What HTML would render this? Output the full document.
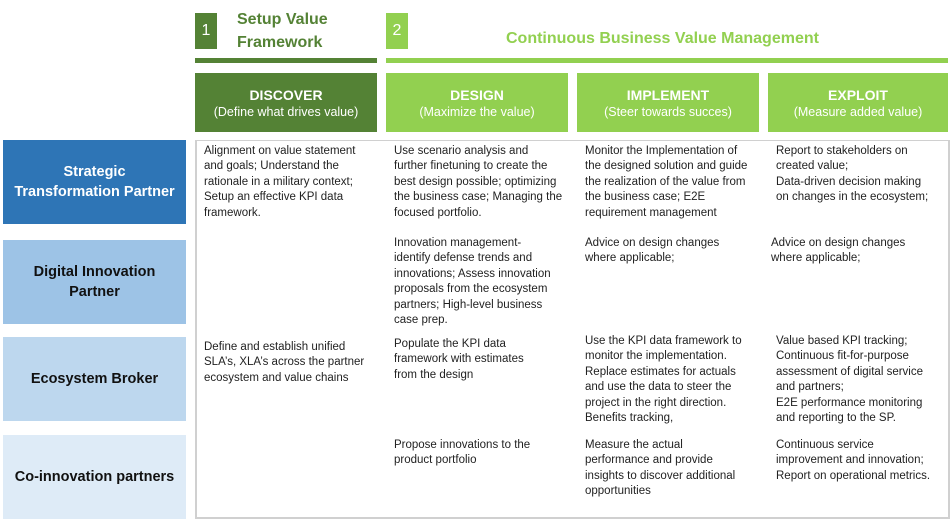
<!DOCTYPE html>
<html><head><meta charset="utf-8"><style>
body{margin:0;width:950px;height:520px;background:#fff;font-family:"Liberation Sans",sans-serif;position:relative;overflow:hidden}
.a{position:absolute}
.t{position:absolute;font-size:11.5px;line-height:15.4px;color:#222;white-space:nowrap}
.hd{position:absolute;top:73px;height:59px;color:#fff;text-align:center;font-size:12.5px}
.hd b{display:block;font-size:14px;margin-top:14px;margin-bottom:2px}
.rl{position:absolute;left:3px;width:183px;height:84px;display:flex;align-items:center;justify-content:center;text-align:center;font-weight:bold;font-size:14.5px;line-height:20px}
</style></head><body>
<div class="a" style="left:195px;top:13px;width:22px;height:36px;background:#548235;color:#fff;font-size:16px;text-align:center;line-height:36px">1</div>
<div class="a" style="left:386px;top:13px;width:22px;height:36px;background:#92D050;color:#fff;font-size:16px;text-align:center;line-height:36px">2</div>
<div class="a" style="left:237px;top:8px;color:#548235;font-weight:bold;font-size:16px;line-height:23px">Setup Value<br>Framework</div>
<div class="a" style="left:506px;top:28px;color:#92D050;font-weight:bold;font-size:16px;line-height:22px">Continuous Business Value Management</div>
<div class="a" style="left:195px;top:58px;width:182px;height:5px;background:#548235"></div>
<div class="a" style="left:386px;top:58px;width:562px;height:5px;background:#92D050"></div>
<div class="hd" style="left:195px;width:182px;background:#548235"><b>DISCOVER</b>(Define what drives value)</div>
<div class="hd" style="left:386px;width:182px;background:#92D050"><b>DESIGN</b>(Maximize the value)</div>
<div class="hd" style="left:577px;width:182px;background:#92D050"><b>IMPLEMENT</b>(Steer towards succes)</div>
<div class="hd" style="left:768px;width:180px;background:#92D050"><b>EXPLOIT</b>(Measure added value)</div>
<div class="a" style="left:195px;top:140px;width:751px;height:376px;border:2px solid #d0d0d0;border-top-width:1px"></div>
<div class="rl" style="top:140px;background:#2E75B6;color:#fff">Strategic<br>Transformation Partner</div>
<div class="rl" style="top:240px;background:#9DC3E6;color:#111">Digital Innovation<br>Partner</div>
<div class="rl" style="top:337px;background:#BDD7EE;color:#111">Ecosystem Broker</div>
<div class="rl" style="top:435px;background:#DEEBF7;color:#111">Co-innovation partners</div>

<div class="t" style="left:204px;top:144px">Alignment on value statement<br>and goals; Understand the<br>rationale in a military context;<br>Setup an effective KPI data<br>framework.</div>
<div class="t" style="left:394px;top:144px">Use scenario analysis and<br>further finetuning to create the<br>best design possible; optimizing<br>the business case; Managing the<br>focused portfolio.</div>
<div class="t" style="left:585px;top:144px">Monitor the Implementation of<br>the designed solution and guide<br>the realization of the value from<br>the business case; E2E<br>requirement management</div>
<div class="t" style="left:776px;top:144px">Report to stakeholders on<br>created value;<br>Data-driven decision making<br>on changes in the ecosystem;</div>

<div class="t" style="left:394px;top:236px">Innovation management-<br>identify defense trends and<br>innovations; Assess innovation<br>proposals from the ecosystem<br>partners; High-level business<br>case prep.</div>
<div class="t" style="left:585px;top:236px">Advice on design changes<br>where applicable;</div>
<div class="t" style="left:771px;top:236px">Advice on design changes<br>where applicable;</div>

<div class="t" style="left:204px;top:340px">Define and establish unified<br>SLA’s, XLA’s across the partner<br>ecosystem and value chains</div>
<div class="t" style="left:394px;top:337px">Populate the KPI data<br>framework with estimates<br>from the design</div>
<div class="t" style="left:585px;top:334px">Use the KPI data framework to<br>monitor the implementation.<br>Replace estimates for actuals<br>and use the data to steer the<br>project in the right direction.<br>Benefits tracking,</div>
<div class="t" style="left:776px;top:334px">Value based KPI tracking;<br>Continuous fit-for-purpose<br>assessment of digital service<br>and partners;<br>E2E performance monitoring<br>and reporting to the SP.</div>

<div class="t" style="left:394px;top:438px">Propose innovations to the<br>product portfolio</div>
<div class="t" style="left:585px;top:438px">Measure the actual<br>performance and provide<br>insights to discover additional<br>opportunities</div>
<div class="t" style="left:776px;top:438px">Continuous service<br>improvement and innovation;<br>Report on operational metrics.</div>
</body></html>
